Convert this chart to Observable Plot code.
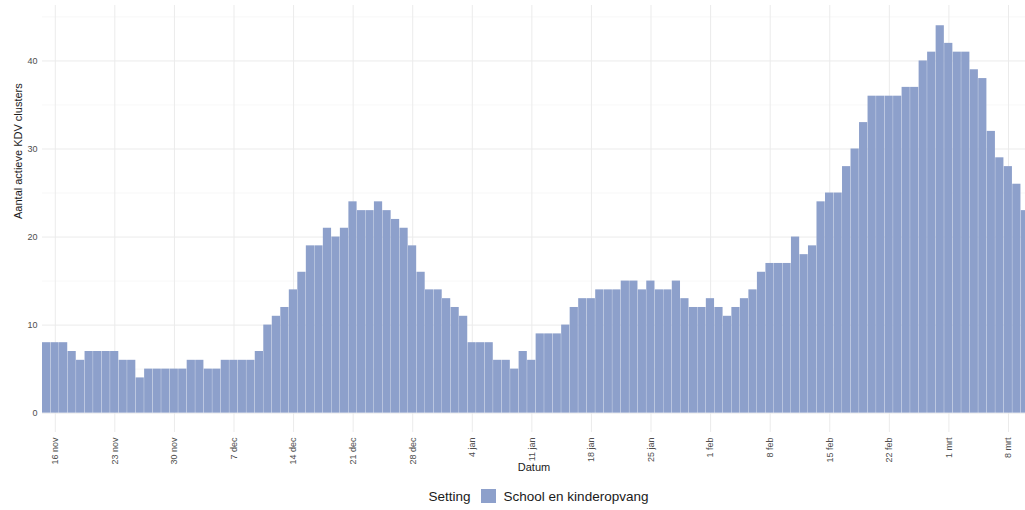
<!DOCTYPE html>
<html>
<head>
<meta charset="utf-8">
<script src="https://cdn.jsdelivr.net/npm/d3@7"></script>
<script src="https://cdn.jsdelivr.net/npm/@observablehq/plot@0.6"></script>
<style>
  body { margin: 0; background: #fff; font-family: "Liberation Sans", Arial, sans-serif; }
  #chart svg { display: block; }
  #legend { height: 28px; display: flex; align-items: center; justify-content: center; padding-left: 52px;
            font-size: 13.5px; color: #1a1a1a; font-family: "Liberation Sans", Arial, sans-serif; }
  #legend .sw { display: inline-block; width: 15px; height: 14px; margin: 0 8px 0 10px; }
</style>
</head>
<body>
<div id="chart"></div>
<div id="legend"></div>
<script>
// ---- data ----
const startDate = "2020-11-15";
const novValues = [8, 8, 8, 7, 6, 7, 7, 7, 7, 6, 6, 4, 5, 5, 5, 5];
const decValues = [5, 6, 6, 5, 5, 6, 6, 6, 6, 7, 10, 11, 12, 14, 16, 19, 19, 21, 20, 21, 24, 23, 23, 24, 23, 22, 21, 19, 16, 14, 14];
const janValues = [13, 12, 11, 8, 8, 8, 6, 6, 5, 7, 6, 9, 9, 9, 10, 12, 13, 13, 14, 14, 14, 15, 15, 14, 15, 14, 14, 15, 13, 12, 12];
const febValues = [13, 12, 11, 12, 13, 14, 16, 17, 17, 17, 20, 18, 19, 24, 25, 25, 28, 30, 33, 36, 36, 36, 36, 37, 37, 40, 41, 44];
const marValues = [42, 41, 41, 39, 38, 32, 29, 28, 26, 23];
const tickDates = ["2020-11-16", "2020-11-23", "2020-11-30", "2020-12-07", "2020-12-14", "2020-12-21", "2020-12-28",
  "2021-01-04", "2021-01-11", "2021-01-18", "2021-01-25", "2021-02-01", "2021-02-08", "2021-02-15", "2021-02-22",
  "2021-03-01", "2021-03-08"];
const monthNames = ["jan", "feb", "mrt", "apr", "mei", "jun", "jul", "aug", "sep", "okt", "nov", "dec"];
const yTicks = [0, 10, 20, 30, 40];
const yMinor = [5, 15, 25, 35, 45];
const seriesName = "School en kinderopvang";
const legendTitle = "Setting";
const xTitle = "Datum";
const yTitle = "Aantal actieve KDV clusters";
const barColor = "#8DA0CB";

// ---- build table (bars centred on their date) ----
const parse = s => new Date(s + "T00:00:00Z");
const start = parse(startDate);
const values = [...novValues, ...decValues, ...janValues, ...febValues, ...marValues];
const data = values.map((v, i) => {
  const date = d3.utcDay.offset(start, i);
  return { date, x1: d3.utcHour.offset(date, -12), x2: d3.utcHour.offset(date, 12), value: v };
});
const ticks = tickDates.map(parse);
const domainStart = d3.utcHour.offset(start, -12);
const domainEnd = new Date(Date.UTC(2021, 2, 10, 0));

const chart = Plot.plot({
  width: 1025,
  height: 482,
  marginLeft: 42,
  marginRight: 0,
  marginTop: 5,
  marginBottom: 50,
  style: { fontFamily: "'Liberation Sans', Arial, sans-serif", fontSize: "9px", color: "#4d4d4d", background: "#fff" },
  x: { type: "utc", domain: [domainStart, domainEnd] },
  y: { domain: [-2.2, 46.3] },
  marks: [
    Plot.ruleY(yMinor, { stroke: "#f3f3f3", strokeWidth: 0.7 }),
    Plot.ruleY(yTicks, { stroke: "#ebebeb", strokeWidth: 1 }),
    Plot.ruleX(ticks, { stroke: "#ebebeb", strokeWidth: 1 }),
    Plot.rect(data, { x1: "x1", x2: "x2", y1: 0, y2: "value", fill: barColor, insetRight: 0.3, clip: true }),
    Plot.axisX({ ticks, tickFormat: d => `${d.getUTCDate()} ${monthNames[d.getUTCMonth()]}`, tickRotate: -90,
                 tickSize: 0, tickPadding: 5, label: null, fill: "#4d4d4d" }),
    Plot.axisY({ ticks: yTicks, tickSize: 0, tickPadding: 5, label: null, fill: "#4d4d4d" }),
    Plot.text([xTitle], { frameAnchor: "bottom", dy: 38, fontSize: 11, fill: "#1a1a1a" }),
    Plot.text([yTitle], { frameAnchor: "left", dx: -24, rotate: -90, fontSize: 11, fill: "#1a1a1a" })
  ]
});
document.getElementById("chart").appendChild(chart);

const legend = document.getElementById("legend");
legend.innerHTML = `<span>${legendTitle}</span><span class="sw" style="background:${barColor}"></span><span>${seriesName}</span>`;
</script>
</body>
</html>
